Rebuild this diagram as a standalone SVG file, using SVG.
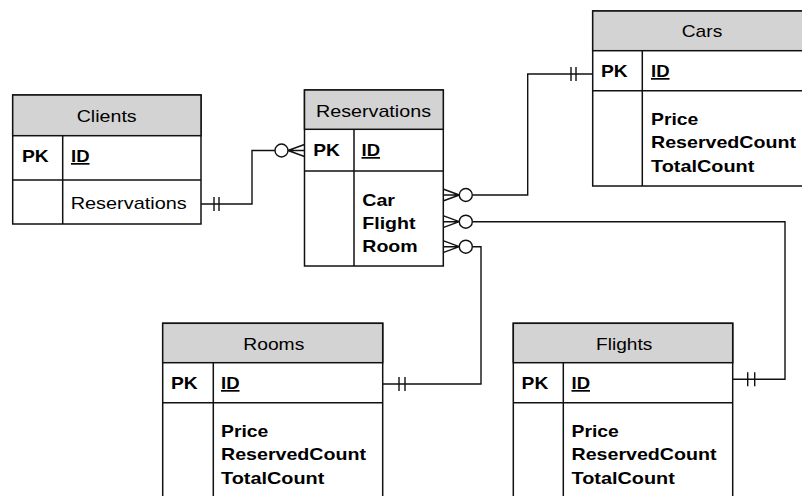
<svg xmlns="http://www.w3.org/2000/svg" width="802" height="496" viewBox="0 0 802 496">
<style>
.box{fill:#fff;stroke:#111;stroke-width:1.5}
.hdr{fill:#d3d3d3;stroke:#111;stroke-width:1.5}
.sep{stroke:#111;stroke-width:1.5;fill:none}
.t{font-family:"Liberation Sans",Arial,sans-serif;font-size:17px;fill:#000}
.b{font-family:"Liberation Sans",Arial,sans-serif;font-size:17px;font-weight:bold;fill:#000}
.u{text-decoration:underline}
.con{fill:none;stroke:#111;stroke-width:1.4}
.circ{fill:#fff;stroke:#111;stroke-width:1.4}
</style>
<rect width="802" height="496" fill="#fff"/>

<g id="connectors">
  <!-- Clients -> Reservations -->
  <path class="con" d="M201,204 H252 V150.5 H275"/>
  <path class="con" d="M214,197 V211 M219,197 V211"/>
  <path class="con" d="M288,150.5 L304.5,144.5 M288,150.5 L304.5,150.5 M288,150.5 L304.5,156.5"/>
  <circle class="circ" cx="281.5" cy="150.5" r="6.5"/>
  <!-- Reservations.Car -> Cars -->
  <path class="con" d="M472.5,195 H527.7 V74 H592.7"/>
  <path class="con" d="M571,67 V81 M576,67 V81"/>
  <path class="con" d="M443,189 L459.3,195 M443,195 L459.3,195 M443,201 L459.3,195"/>
  <circle class="circ" cx="465.8" cy="195" r="6.5"/>
  <!-- Reservations.Flight -> Flights -->
  <path class="con" d="M472.5,221.7 H785 V379.3 H732.7"/>
  <path class="con" d="M747.7,372.3 V386.3 M754.7,372.3 V386.3"/>
  <path class="con" d="M443,215.7 L459.3,221.7 M443,221.7 L459.3,221.7 M443,227.7 L459.3,221.7"/>
  <circle class="circ" cx="465.8" cy="221.7" r="6.5"/>
  <!-- Reservations.Room -> Rooms -->
  <path class="con" d="M472.5,246.7 H481 V384 H382.7"/>
  <path class="con" d="M399,377 V391 M405,377 V391"/>
  <path class="con" d="M443,240.7 L459.3,246.7 M443,246.7 L459.3,246.7 M443,252.7 L459.3,246.7"/>
  <circle class="circ" cx="465.8" cy="246.7" r="6.5"/>
</g>

<g id="clients">
  <rect class="box" x="12.7" y="95" width="188.3" height="129"/>
  <rect class="hdr" x="12.7" y="95" width="188.3" height="40.7"/>
  <path class="sep" d="M12.7,180 H201 M62.7,135.7 V224"/>
  <text class="t" x="76.7" y="121.5" textLength="60" lengthAdjust="spacingAndGlyphs">Clients</text>
  <text class="b" x="22" y="162" textLength="26.7" lengthAdjust="spacingAndGlyphs">PK</text>
  <text class="b u" x="71" y="162" textLength="18.5" lengthAdjust="spacingAndGlyphs">ID</text>
  <text class="t" x="70.7" y="209.3" textLength="116" lengthAdjust="spacingAndGlyphs">Reservations</text>
</g>

<g id="reservations">
  <rect class="box" x="304.5" y="90" width="138.8" height="176"/>
  <rect class="hdr" x="304.5" y="90" width="138.8" height="39.3"/>
  <path class="sep" d="M304.5,171 H443.3 M354,129.3 V266"/>
  <text class="t" x="316" y="116.5" textLength="115" lengthAdjust="spacingAndGlyphs">Reservations</text>
  <text class="b" x="313.3" y="156" textLength="26.7" lengthAdjust="spacingAndGlyphs">PK</text>
  <text class="b u" x="361.5" y="156" textLength="18.5" lengthAdjust="spacingAndGlyphs">ID</text>
  <text class="b" x="362.3" y="206" textLength="32.7" lengthAdjust="spacingAndGlyphs">Car</text>
  <text class="b" x="362.3" y="229" textLength="53.2" lengthAdjust="spacingAndGlyphs">Flight</text>
  <text class="b" x="362.3" y="252" textLength="55.4" lengthAdjust="spacingAndGlyphs">Room</text>
</g>

<g id="cars">
  <rect class="box" x="592.7" y="11" width="220" height="175"/>
  <rect class="hdr" x="592.7" y="11" width="220" height="39.7"/>
  <path class="sep" d="M592.7,90.7 H812.7 M642.3,50.7 V186"/>
  <text class="t" x="681.7" y="37" textLength="40.6" lengthAdjust="spacingAndGlyphs">Cars</text>
  <text class="b" x="601" y="77" textLength="26.7" lengthAdjust="spacingAndGlyphs">PK</text>
  <text class="b u" x="651" y="77" textLength="18.5" lengthAdjust="spacingAndGlyphs">ID</text>
  <text class="b" x="651" y="124.5" textLength="47.3" lengthAdjust="spacingAndGlyphs">Price</text>
  <text class="b" x="651" y="148" textLength="145" lengthAdjust="spacingAndGlyphs">ReservedCount</text>
  <text class="b" x="651" y="171.5" textLength="103.3" lengthAdjust="spacingAndGlyphs">TotalCount</text>
</g>

<g id="rooms">
  <rect class="box" x="162.7" y="323.3" width="220" height="190"/>
  <rect class="hdr" x="162.7" y="323.3" width="220" height="39.4"/>
  <path class="sep" d="M162.7,402.7 H382.7 M213.3,362.7 V513"/>
  <text class="t" x="243.3" y="349.5" textLength="61" lengthAdjust="spacingAndGlyphs">Rooms</text>
  <text class="b" x="171" y="389" textLength="26.7" lengthAdjust="spacingAndGlyphs">PK</text>
  <text class="b u" x="221" y="389" textLength="18.5" lengthAdjust="spacingAndGlyphs">ID</text>
  <text class="b" x="221" y="436.5" textLength="47.3" lengthAdjust="spacingAndGlyphs">Price</text>
  <text class="b" x="221" y="460" textLength="145" lengthAdjust="spacingAndGlyphs">ReservedCount</text>
  <text class="b" x="221" y="483.5" textLength="103.3" lengthAdjust="spacingAndGlyphs">TotalCount</text>
</g>

<g id="flights">
  <rect class="box" x="513.3" y="323.3" width="219.4" height="190"/>
  <rect class="hdr" x="513.3" y="323.3" width="219.4" height="39.4"/>
  <path class="sep" d="M513.3,402.7 H732.7 M563.3,362.7 V513"/>
  <text class="t" x="596" y="349.5" textLength="56.3" lengthAdjust="spacingAndGlyphs">Flights</text>
  <text class="b" x="521.6" y="389" textLength="26.7" lengthAdjust="spacingAndGlyphs">PK</text>
  <text class="b u" x="571.5" y="389" textLength="18.5" lengthAdjust="spacingAndGlyphs">ID</text>
  <text class="b" x="571.5" y="436.5" textLength="47.3" lengthAdjust="spacingAndGlyphs">Price</text>
  <text class="b" x="571.5" y="460" textLength="145" lengthAdjust="spacingAndGlyphs">ReservedCount</text>
  <text class="b" x="571.5" y="483.5" textLength="103.3" lengthAdjust="spacingAndGlyphs">TotalCount</text>
</g>
</svg>
